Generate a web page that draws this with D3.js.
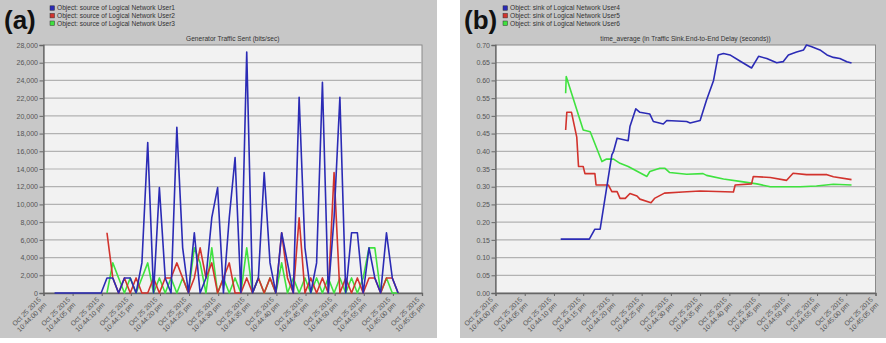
<!DOCTYPE html>
<html>
<head>
<meta charset="utf-8">
<script src="https://cdn.jsdelivr.net/npm/d3@7"></script>
<style>
  body { margin: 0; background: #fff; }
  svg { display: block; font-family: "Liberation Sans", Arial, sans-serif; }
</style>
</head>
<body>
<svg id="chart" width="886" height="343"></svg>
<script>
const startTime = new Date(2015, 9, 25, 22, 44, 0);
const tickSeconds = [0, 5, 10, 15, 20, 25, 30, 35, 40, 45, 50, 55, 60, 65];

// (a) Generator Traffic Sent, one sample per second
const user1Start = 1.9;
const user1Sent = [0, 0, 0, 0, 0, 0, 0, 0, 0,
  1700, 1700, 0, 1700, 1700, 0, 3400, 17000, 0, 11900, 1700, 0, 18700, 5100, 0, 6800, 0,
  1700, 8500, 11900, 0, 8500, 15300, 0, 27200, 0, 1700, 13600, 3400, 0, 6800, 3400, 0,
  22100, 5100, 0, 3400, 23800, 0, 8500, 22100, 0, 6800, 6800, 0, 5100, 1700, 0, 6800, 1700, 0];
const user23Start = 10.9;
const user2Sent = [6800, 1700, 0, 1700, 0, 1700, 0, 0, 1700, 0, 1700, 1700, 3400, 1700, 0, 1700,
  5100, 1700, 3400, 0, 1700, 3400, 0, 0, 1700, 0, 1700, 0, 1700, 0, 6800, 1700, 0, 8500, 0,
  1700, 0, 1700, 0, 13600, 0, 1700, 0, 1700, 0, 1700, 1700, 0, 1700, 1700, 0];
const user3Sent = [0, 3400, 1700, 0, 1700, 0, 1700, 3400, 0, 1700, 0, 1700, 0, 1700, 0, 5100,
  3400, 0, 5100, 0, 1700, 0, 1700, 0, 5100, 0, 1700, 0, 1700, 0, 3400, 0, 1700, 0, 1700, 0,
  1700, 0, 1700, 0, 1700, 0, 1700, 0, 1700, 5100, 5100, 0, 1700, 0, 0];
const sentTicks = d3.range(0, 28001, 2000);

// (b) End-to-End Delay time_average: [seconds after 10:44:00, value]
const user4Delay = [[11.15, 0.152], [16.05, 0.152], [17.0, 0.18], [17.9, 0.18], [19.9, 0.39],
  [20.2, 0.40], [20.8, 0.437], [22.7, 0.43], [23.0, 0.47], [24.0, 0.52], [24.7, 0.51],
  [26.4, 0.505], [27.0, 0.484], [28.7, 0.477], [29.3, 0.487], [32.7, 0.484], [33.3, 0.48],
  [35.0, 0.487], [36.1, 0.545], [37.3, 0.60], [38.1, 0.672], [39.0, 0.676], [40.1, 0.672],
  [41.8, 0.655], [43.8, 0.635], [45.0, 0.668], [46.4, 0.662], [48.1, 0.65], [49.2, 0.653],
  [50.1, 0.672], [51.5, 0.68], [52.7, 0.686], [53.2, 0.70], [54.1, 0.695], [55.5, 0.686],
  [56.7, 0.672], [57.8, 0.665], [58.9, 0.662], [60.1, 0.653], [60.9, 0.649]];
const user5Delay = [[12.0, 0.46], [12.2, 0.51], [13.0, 0.51], [13.9, 0.44], [14.2, 0.357],
  [15.0, 0.357], [15.3, 0.337], [17.0, 0.337], [17.2, 0.305], [19.3, 0.305], [19.9, 0.286],
  [20.8, 0.286], [21.3, 0.267], [22.2, 0.267], [23.0, 0.281], [24.2, 0.274], [24.7, 0.265],
  [26.6, 0.255], [27.2, 0.267], [28.9, 0.282], [32.0, 0.285], [35.0, 0.288], [40.7, 0.285],
  [41.0, 0.305], [43.8, 0.308], [44.1, 0.329], [47.0, 0.326], [49.8, 0.318], [50.9, 0.338],
  [53.2, 0.334], [56.7, 0.334], [57.8, 0.328], [60.9, 0.32]];
const user6Delay = [[12.0, 0.564], [12.1, 0.611], [15.0, 0.46], [16.2, 0.455], [18.2, 0.371],
  [19.0, 0.378], [20.2, 0.378], [21.3, 0.366], [22.7, 0.357], [25.9, 0.329], [26.4, 0.343],
  [28.1, 0.352], [29.0, 0.352], [29.8, 0.34], [32.7, 0.335], [35.5, 0.337], [36.1, 0.332],
  [39.0, 0.322], [41.8, 0.315], [44.7, 0.308], [47.0, 0.300], [52.1, 0.300], [54.9, 0.302],
  [57.8, 0.307], [60.9, 0.305]];
const delayTicks = d3.range(0, 15).map((d) => d * 0.05);

const blue = '#2b2bb5';
const red = '#d2332d';
const green = '#3fe23f';

const secondsToDate = (s) => new Date(startTime.getTime() + s * 1000);
const perSecond = (start, values) => values.map((v, i) => [start + i, v]);

const svg = d3.select('#chart');
const plotTop = 45;
const plotBottom = 293;

const drawPanel = (cfg) => {
  const g = svg.append('g');

  g.append('rect')
    .attr('x', cfg.bgX).attr('y', 0)
    .attr('width', cfg.bgW).attr('height', 338)
    .attr('fill', '#c7c7c7');

  g.append('text')
    .attr('x', cfg.bgX + 4).attr('y', 29)
    .attr('font-size', 26).attr('font-weight', 'bold')
    .attr('fill', '#111')
    .text(cfg.tag);

  const legend = g.append('g')
    .selectAll('g')
    .data(cfg.series)
    .join('g')
    .attr('transform', (d, i) => `translate(${cfg.legendX},${8 + i * 7.6})`);
  legend.append('rect')
    .attr('x', 0).attr('y', -2.2).attr('width', 4.5).attr('height', 4.5)
    .attr('fill', (d) => d.color).attr('stroke', '#333').attr('stroke-width', 0.5);
  legend.append('text')
    .attr('x', 7).attr('y', 2.3)
    .attr('font-size', 6.6).attr('fill', '#333')
    .text((d) => d.name);

  const x = d3.scaleTime()
    .domain([startTime, secondsToDate(65)])
    .range([cfg.left, cfg.right]);
  const y = d3.scaleLinear().domain(cfg.yDomain).range([plotBottom, plotTop]);

  g.append('text')
    .attr('x', (cfg.left + cfg.right) / 2).attr('y', 41)
    .attr('text-anchor', 'middle')
    .attr('font-size', 6.6).attr('fill', '#333')
    .text(cfg.title);

  g.append('rect')
    .attr('x', cfg.left).attr('y', plotTop)
    .attr('width', cfg.right - cfg.left).attr('height', plotBottom - plotTop)
    .attr('fill', '#f2f2f2').attr('stroke', '#8a8a8a');

  g.append('g')
    .selectAll('line')
    .data(cfg.yTicks.slice(1, -1))
    .join('line')
    .attr('x1', cfg.left).attr('x2', cfg.right)
    .attr('y1', (d) => y(d)).attr('y2', (d) => y(d))
    .attr('stroke', '#b2b2b2').attr('stroke-width', 1.2);

  const yAxis = g.append('g')
    .attr('transform', `translate(${cfg.left},0)`)
    .call(d3.axisLeft(y).tickValues(cfg.yTicks).tickFormat(cfg.yFormat).tickSize(4).tickPadding(1.5));
  yAxis.select('.domain').attr('stroke', '#666').attr('stroke-width', 1.3);
  yAxis.selectAll('.tick line').attr('stroke', '#666');
  yAxis.selectAll('.tick text')
    .attr('font-size', 7).attr('fill', '#555').attr('font-family', null);

  const tickDates = tickSeconds.map(secondsToDate);
  const xAxis = g.append('g')
    .attr('transform', `translate(0,${plotBottom})`)
    .call(d3.axisBottom(x).tickValues(tickDates).tickFormat('').tickSize(3));
  xAxis.select('.domain').attr('stroke', '#666').attr('stroke-width', 1.3);
  xAxis.selectAll('.tick line').attr('stroke', '#666');

  const dayFmt = d3.timeFormat('%b %d %Y');
  const timeFmt = d3.timeFormat('%-I:%M:%S %p');
  const label = g.append('g')
    .selectAll('text')
    .data(tickDates)
    .join('text')
    .attr('transform', (d) => `translate(${x(d) - 2},${plotBottom + 7}) rotate(-45)`)
    .attr('text-anchor', 'end')
    .attr('font-size', 6.9).attr('fill', '#555');
  label.append('tspan').attr('x', 0).attr('y', 0).text((d) => dayFmt(d));
  label.append('tspan').attr('x', 0).attr('y', 7.5).text((d) => timeFmt(d).toLowerCase());

  const line = d3.line()
    .x((d) => x(secondsToDate(d[0])))
    .y((d) => y(d[1]));

  g.append('g')
    .selectAll('path')
    .data(cfg.series.slice().reverse())
    .join('path')
    .attr('d', (d) => line(d.points))
    .attr('fill', 'none')
    .attr('stroke', (d) => d.color)
    .attr('stroke-width', 1.6)
    .attr('stroke-linejoin', 'round');
};

drawPanel({
  tag: '(a)',
  bgX: 0, bgW: 437,
  left: 43.5, right: 422,
  legendX: 50,
  title: 'Generator Traffic Sent (bits/sec)',
  yDomain: [0, 28000],
  yTicks: sentTicks,
  yFormat: d3.format(','),
  series: [
    { name: 'Object: source of Logical Network User1', color: blue, points: perSecond(user1Start, user1Sent) },
    { name: 'Object: source of Logical Network User2', color: red, points: perSecond(user23Start, user2Sent) },
    { name: 'Object: source of Logical Network User3', color: green, points: perSecond(user23Start, user3Sent) },
  ],
});

drawPanel({
  tag: '(b)',
  bgX: 460, bgW: 426,
  left: 495.5, right: 875.5,
  legendX: 503,
  title: 'time_average (in Traffic Sink.End-to-End Delay (seconds))',
  yDomain: [0, 0.7],
  yTicks: delayTicks,
  yFormat: d3.format('.2f'),
  series: [
    { name: 'Object: sink of Logical Network User4', color: blue, points: user4Delay },
    { name: 'Object: sink of Logical Network User5', color: red, points: user5Delay },
    { name: 'Object: sink of Logical Network User6', color: green, points: user6Delay },
  ],
});
</script>
</body>
</html>
